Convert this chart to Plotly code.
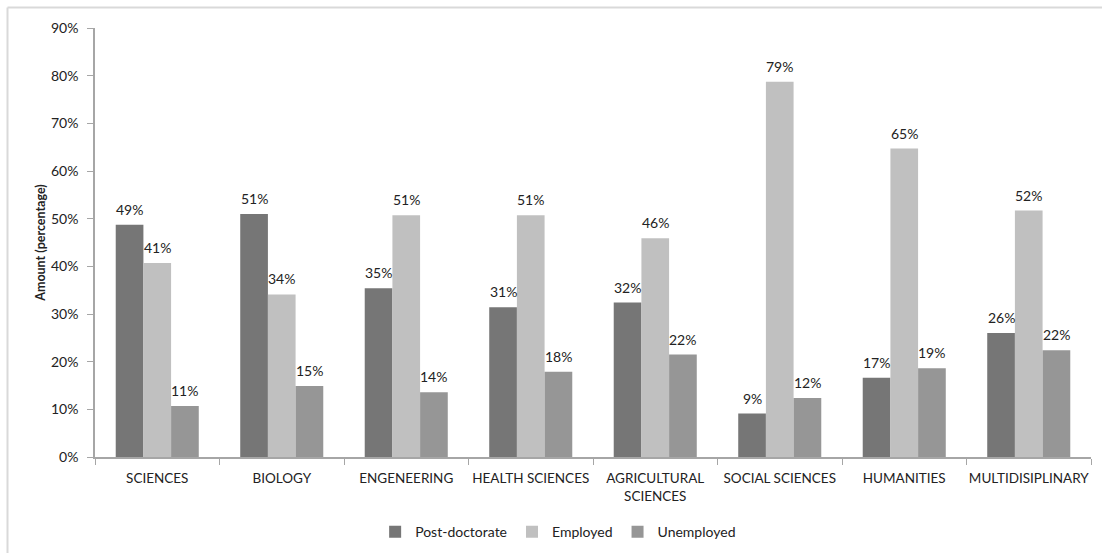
import plotly.graph_objects as go

categories = ["SCIENCES", "BIOLOGY", "ENGENEERING", "HEALTH SCIENCES",
              "AGRICULTURAL<br>SCIENCES", "SOCIAL SCIENCES", "HUMANITIES",
              "MULTIDISIPLINARY"]
post_doctorate = [48.7, 51.0, 35.4, 31.4, 32.4, 9.1, 16.6, 26.0]
employed = [40.7, 34.1, 50.7, 50.7, 45.9, 78.7, 64.7, 51.7]
unemployed = [10.7, 14.9, 13.6, 17.9, 21.5, 12.4, 18.6, 22.4]

series = [
    ("Post-doctorate", post_doctorate, "#767676"),
    ("Employed", employed, "#c0c0c0"),
    ("Unemployed", unemployed, "#969696"),
]

FONT = "Lato, 'Open Sans', sans-serif"

W, H = 1102, 553
ml, mr, mt, mb = 95, 11, 28, 96
pw, ph = W - ml - mr, H - mt - mb
BARGAP = 0.333
bar_px = pw / len(categories) * (1 - BARGAP) / len(series)

fig = go.Figure()
for i, (name, vals, color) in enumerate(series):
    fig.add_trace(go.Bar(
        x=categories, y=vals, name=name,
        marker=dict(color=color, line=dict(width=0)),
        cliponaxis=False,
    ))
    # value labels above each bar
    for cat, v in zip(categories, vals):
        fig.add_annotation(
            x=cat, y=v, text=f"{v:.0f}%", showarrow=False,
            xanchor="center", yanchor="bottom", yshift=5,
            xshift=(i - 1) * bar_px,
            font=dict(size=14, color="#222222", family=FONT),
        )

fig.update_layout(
    width=W, height=H,
    margin=dict(l=ml, r=mr, t=mt, b=mb, autoexpand=False),
    paper_bgcolor="white", plot_bgcolor="white",
    barmode="group", bargap=BARGAP, bargroupgap=0,
    font=dict(family=FONT, size=13, color="#222222"),
    showlegend=True,
    legend=dict(orientation="h", x=0.465, xanchor="center", y=-0.175,
                yanchor="middle", font=dict(size=14), itemwidth=30,
                traceorder="normal", itemclick=False),
)
fig.update_xaxes(
    showline=True, linecolor="#a6a6a6", linewidth=1.5,
    ticks="outside", tickson="boundaries", ticklen=6, tickcolor="#a6a6a6",
    showgrid=False, tickfont=dict(size=13.5), tickangle=0, automargin=False,
    ticklabelstandoff=8,
)
fig.update_yaxes(
    range=[0, 90], dtick=10, ticksuffix="%",
    showline=True, linecolor="#a6a6a6", linewidth=1.5,
    ticks="outside", ticklen=6, tickcolor="#a6a6a6",
    showgrid=False, zeroline=False, tickfont=dict(size=14), automargin=False,
    ticklabelstandoff=6,
    title=dict(text="<b>Amount (percentage)</b>", font=dict(size=12.5), standoff=3),
)

# light frame around the chart area (top and left edges visible)
x0 = (7.5 - ml) / pw
y0 = (H - mb - 7.5) / ph
fig.add_shape(type="line", xref="paper", yref="paper", x0=x0, x1=1.2, y0=y0, y1=y0,
              line=dict(color="#d9d9d9", width=2))
fig.add_shape(type="line", xref="paper", yref="paper", x0=x0, x1=x0, y0=y0, y1=-0.5,
              line=dict(color="#d9d9d9", width=2))

fig.write_html("out.html")
